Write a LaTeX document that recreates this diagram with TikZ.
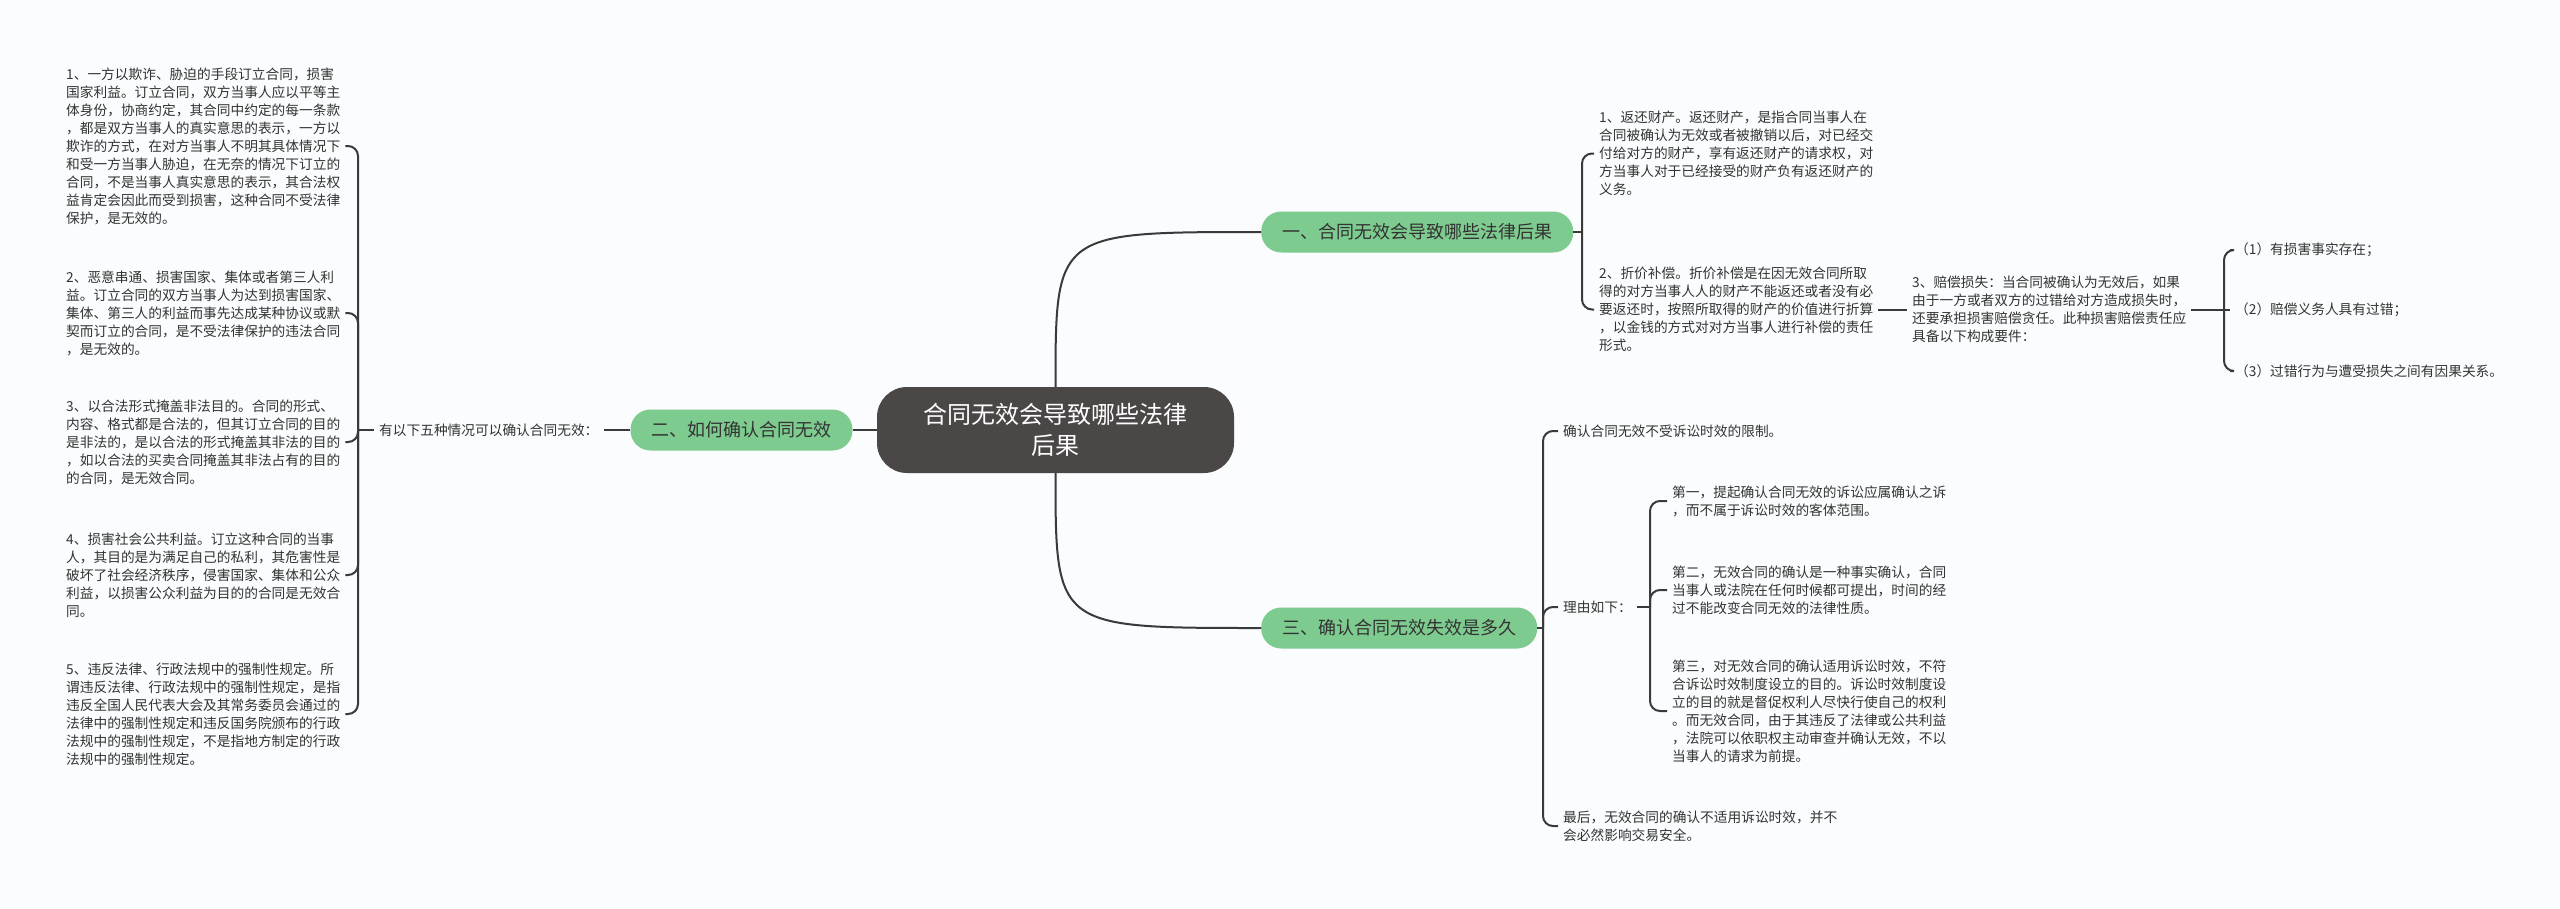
\documentclass[tikz,border=0pt]{standalone}
\usepackage{fontspec}
\setmainfont{Noto Sans CJK SC}
\usetikzlibrary{calc}
\definecolor{bg}{RGB}{250,252,253}
\definecolor{ln}{RGB}{58,58,58}
\definecolor{gr}{RGB}{126,203,144}
\definecolor{ctr}{RGB}{75,71,71}
\definecolor{tx}{RGB}{51,51,51}
\tikzset{
  body/.style={font=\fontsize{13.7}{18}\selectfont, text=tx, align=left, inner sep=5pt, anchor=west},
  branch/.style={fill=gr, rounded corners=20pt, minimum height=41pt, inner xsep=21pt, inner ysep=0pt, font=\fontsize{18}{22}\selectfont, text=tx},
  cnode/.style={fill=ctr, text=white, rounded corners=30pt, minimum width=357pt, minimum height=86pt, align=center, font=\fontsize{24}{31}\selectfont},
  conn/.style={draw=ln, line width=2pt},
  brk/.style={conn, rounded corners=10pt},
}
\begin{document}
\begin{tikzpicture}[x=1pt,y=-1pt]
\fill[bg] (0,0) rectangle (2560,908);
\useasboundingbox (0,0) rectangle (2560,908);

% central and branches
\node[cnode] (c) at (1055.5,430) {合同无效会导致哪些法律\\后果};
\node[branch, anchor=west] (b1) at (1261,232) {一、合同无效会导致哪些法律后果};
\node[branch] (b2) at (741.5,430) {二、如何确认合同无效};
\node[branch, anchor=west] (b3) at (1261,628) {三、确认合同无效失效是多久};

\draw[conn] (c.north) .. controls (c.north |- b1.west) .. (b1.west);
\draw[conn] (c.south) .. controls (c.south |- b3.west) .. (b3.west);
\draw[conn] (c.west) -- (b2.east);

% branch 2 (left)
\node[body, anchor=west] (lab) at (374,430) {有以下五种情况可以确认合同无效：};
\node[body] (l1) at (61,146) {1、一方以欺诈、胁迫的手段订立合同，损害\\国家利益。订立合同，双方当事人应以平等主\\体身份，协商约定，其合同中约定的每一条款\\，都是双方当事人的真实意思的表示，一方以\\欺诈的方式，在对方当事人不明其具体情况下\\和受一方当事人胁迫，在无奈的情况下订立的\\合同，不是当事人真实意思的表示，其合法权\\益肯定会因此而受到损害，这种合同不受法律\\保护，是无效的。};
\node[body] (l2) at (61,313) {2、恶意串通、损害国家、集体或者第三人利\\益。订立合同的双方当事人为达到损害国家、\\集体、第三人的利益而事先达成某种协议或默\\契而订立的合同，是不受法律保护的违法合同\\，是无效的。};
\node[body] (l3) at (61,442) {3、以合法形式掩盖非法目的。合同的形式、\\内容、格式都是合法的，但其订立合同的目的\\是非法的，是以合法的形式掩盖其非法的目的\\，如以合法的买卖合同掩盖其非法占有的目的\\的合同，是无效合同。};
\node[body] (l4) at (61,575) {4、损害社会公共利益。订立这种合同的当事\\人，其目的是为满足自己的私利，其危害性是\\破坏了社会经济秩序，侵害国家、集体和公众\\利益，以损害公众利益为目的的合同是无效合\\同。};
\node[body] (l5) at (61,714) {5、违反法律、行政法规中的强制性规定。所\\谓违反法律、行政法规中的强制性规定，是指\\违反全国人民代表大会及其常务委员会通过的\\法律中的强制性规定和违反国务院颁布的行政\\法规中的强制性规定，不是指地方制定的行政\\法规中的强制性规定。};
\coordinate (j2) at (358,430);
\draw[conn] (b2.west) -- (lab.east);
\draw[conn] (lab.west) -- (j2);
\foreach \n in {l1,l2,l3,l4,l5} {\draw[brk] (j2) |- (\n.east);}

% branch 1 (upper right)
\node[body] (r1) at (1594,153.5) {1、返还财产。返还财产，是指合同当事人在\\合同被确认为无效或者被撤销以后，对已经交\\付给对方的财产，享有返还财产的请求权，对\\方当事人对于已经接受的财产负有返还财产的\\义务。};
\node[body] (r2) at (1594,309.5) {2、折价补偿。折价补偿是在因无效合同所取\\得的对方当事人人的财产不能返还或者没有必\\要返还时，按照所取得的财产的价值进行折算\\，以金钱的方式对对方当事人进行补偿的责任\\形式。};
\node[body] (r3) at (1907,309.5) {3、赔偿损失：当合同被确认为无效后，如果\\由于一方或者双方的过错给对方造成损失时，\\还要承担损害赔偿贪任。此种损害赔偿责任应\\具备以下构成要件：};
\node[body] (s1) at (2230,250) {（1）有损害事实存在；};
\node[body] (s2) at (2230,309.5) {（2）赔偿义务人具有过错；};
\node[body] (s3) at (2230,371) {（3）过错行为与遭受损失之间有因果关系。};
\coordinate (j1) at (1582,232);
\draw[conn] (b1.east) -- (j1);
\draw[brk] (j1) |- (r1.west);
\draw[brk] (j1) |- (r2.west);
\draw[conn] (r2.east) -- (r3.west);
\coordinate (j3) at (2224,309.5);
\draw[conn] (r3.east) -- (j3);
\draw[brk] (j3) |- (s1.west);
\draw[conn] (j3) -- (s2.west);
\draw[brk] (j3) |- (s3.west);

% branch 3 (lower right)
\node[body] (t1) at (1558,431) {确认合同无效不受诉讼时效的限制。};
\node[body] (t2) at (1558,607) {理由如下：};
\node[body] (t3) at (1558,826) {最后，无效合同的确认不适用诉讼时效，并不\\会必然影响交易安全。};
\node[body] (u1) at (1667,501) {第一，提起确认合同无效的诉讼应属确认之诉\\，而不属于诉讼时效的客体范围。};
\node[body] (u2) at (1667,590) {第二，无效合同的确认是一种事实确认，合同\\当事人或法院在任何时候都可提出，时间的经\\过不能改变合同无效的法律性质。};
\node[body] (u3) at (1667,711) {第三，对无效合同的确认适用诉讼时效，不符\\合诉讼时效制度设立的目的。诉讼时效制度设\\立的目的就是督促权利人尽快行使自己的权利\\。而无效合同，由于其违反了法律或公共利益\\，法院可以依职权主动审查并确认无效，不以\\当事人的请求为前提。};
\coordinate (j4) at (1543,628);
\draw[conn] (b3.east) -- (j4);
\draw[brk] (j4) |- (t1.west);
\draw[brk] (j4) |- (t2.west);
\draw[brk] (j4) |- (t3.west);
\coordinate (j5) at (1650,607);
\draw[conn] (t2.east) -- (j5);
\draw[brk] (j5) |- (u1.west);
\draw[brk] (j5) |- (u2.west);
\draw[brk] (j5) |- (u3.west);
\end{tikzpicture}
\end{document}
